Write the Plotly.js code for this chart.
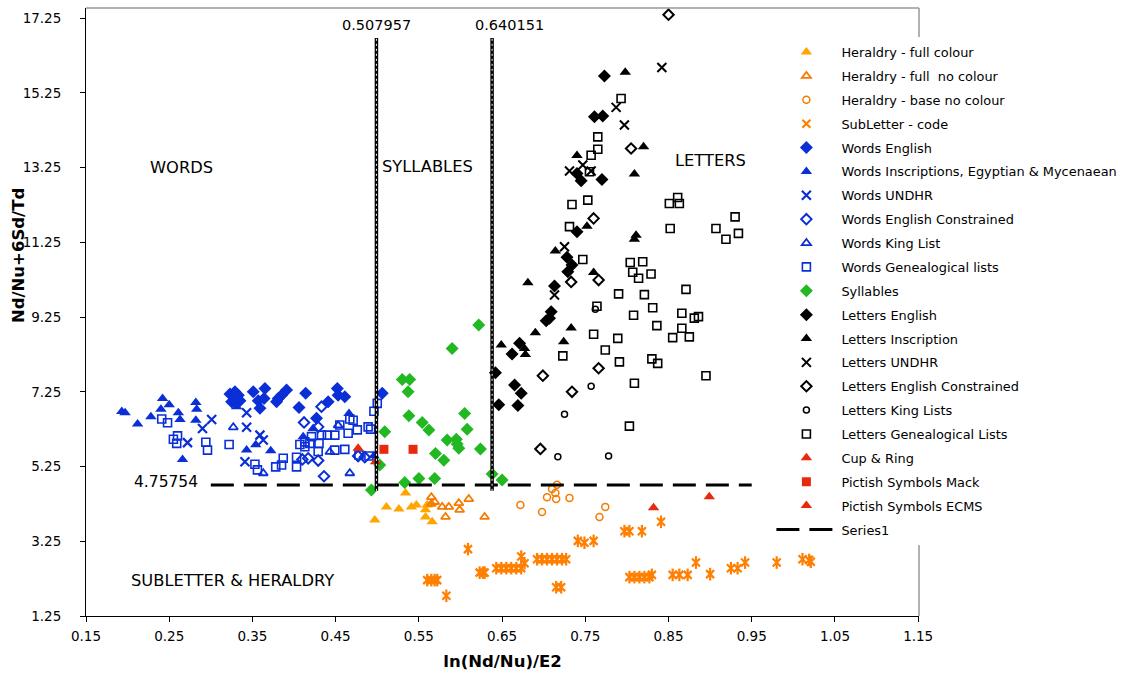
<!DOCTYPE html>
<html>
<head>
<meta charset="utf-8">
<script src="https://cdn.plot.ly/plotly-3.0.1.min.js"></script>
<style>html,body{margin:0;padding:0;background:#fff;}#chart{width:1125px;height:681px;}</style>
</head>
<body>
<div id="chart"></div>
<script>
// ---------- DATA ----------
const heraldryFullX = [0.497,0.511,0.526,0.534,0.541,0.547,0.558,0.558,0.566,0.560];
const heraldryFullY = [3.82,4.17,4.11,4.54,4.17,4.22,4.09,3.90,3.77,4.22];

const heraldryNoColX = [0.565,0.565,0.569,0.578,0.586,0.598,0.599,0.610,0.582,0.629];
const heraldryNoColY = [4.43,4.25,4.30,4.17,4.17,4.27,4.09,4.38,3.90,3.90];

const heraldryBaseX = [0.716,0.710,0.714,0.704,0.715,0.731,0.672,0.698,0.767,0.774];
const heraldryBaseY = [4.76,4.65,4.54,4.43,4.38,4.41,4.22,4.03,3.90,4.17];

const subLetterX = [0.609,0.623,0.627,0.629,0.643,0.649,0.655,0.661,0.667,0.673,0.673,0.677,
  0.692,0.698,0.704,0.710,0.716,0.722,0.727,0.560,0.565,0.569,0.572,0.583,0.715,0.721,
  0.741,0.749,0.760,0.797,0.803,0.818,0.841,0.803,0.809,0.815,0.821,0.827,0.830,
  0.855,0.863,0.873,0.883,0.900,0.925,0.933,0.942,0.980,1.011,1.019,1.021];
const subLetterY = [3.04,2.41,2.41,2.41,2.53,2.53,2.53,2.53,2.53,2.53,2.84,2.66,
  2.77,2.77,2.77,2.77,2.77,2.77,2.77,2.21,2.21,2.21,2.21,1.79,2.02,2.02,
  3.26,3.21,3.26,3.52,3.52,3.52,3.77,2.29,2.29,2.29,2.29,2.29,2.35,
  2.35,2.35,2.35,2.68,2.37,2.53,2.53,2.68,2.68,2.77,2.75,2.70];

const wordsEnglishX = [0.323,0.329,0.333,0.325,0.331,0.335,0.351,0.357,0.359,0.365,0.364,0.381,
  0.391,0.385,0.379,0.414,0.406,0.427,0.441,0.452,0.453,0.461,0.506];
const wordsEnglishY = [7.19,7.25,7.16,6.98,7.07,7.01,7.25,7.01,6.81,7.34,7.07,7.07,
  7.30,7.16,6.98,7.21,6.83,6.54,6.98,7.34,7.16,7.12,7.21];

const wordsInscX = [0.193,0.197,0.212,0.228,0.242,0.250,0.240,0.261,0.263,0.282,0.283,0.282,
  0.266,0.331,0.343,0.354,0.372,0.411,0.423,0.466,0.496];
const wordsInscY = [6.72,6.69,6.39,6.58,7.07,6.90,6.78,6.69,6.51,6.96,6.78,6.49,
  5.44,6.85,5.69,5.83,5.67,6.05,6.27,6.67,5.54];

const wordsUndhrX = [0.301,0.290,0.272,0.343,0.343,0.359,0.363,0.341];
const wordsUndhrY = [6.51,6.27,5.89,6.30,6.69,6.09,5.96,5.38];

const wordsConstrX = [0.433,0.412,0.429,0.417,0.410,0.429,0.436,0.477,0.485];
const wordsConstrY = [6.85,6.43,6.31,5.47,5.44,5.41,4.99,5.53,5.50];

const wordsKingX = [0.327,0.363,0.443,0.453,0.467];
const wordsKingY = [6.30,5.07,5.64,6.35,5.07];

const wordsGenX = [0.241,0.248,0.255,0.260,0.259,0.294,0.296,0.322,0.353,0.356,0.378,0.385,
  0.387,0.403,0.403,0.407,0.413,0.413,0.419,0.421,0.429,0.430,0.433,0.440,0.449,0.449,
  0.461,0.465,0.455,0.467,0.471,0.476,0.489,0.492,0.500,0.496,0.478,0.490];
const wordsGenY = [6.52,6.42,5.98,6.07,5.87,5.90,5.69,5.84,5.31,5.16,5.24,5.29,
  5.47,5.50,5.24,5.84,5.78,5.91,5.87,6.05,5.65,5.87,6.09,6.09,6.09,5.69,
  5.71,6.14,6.36,6.52,6.49,6.23,6.31,6.25,6.94,6.73,5.56,5.53];

const syllablesX = [0.622,0.590,0.530,0.539,0.537,0.538,0.554,0.562,0.605,0.608,0.584,0.595,
  0.596,0.598,0.624,0.570,0.580,0.509,0.503,0.533,0.550,0.569,0.493,0.638,0.650];
const syllablesY = [9.04,8.41,7.58,7.58,7.25,6.61,6.43,6.23,6.67,6.25,5.96,5.98,
  5.85,5.74,5.72,5.60,5.42,6.18,5.29,4.82,4.93,4.93,4.62,5.05,4.89];

const lettersEngX = [0.773,0.761,0.771,0.740,0.745,0.770,0.740,0.728,0.734,0.729,0.713,0.709,
  0.707,0.703,0.671,0.662,0.642,0.665,0.673,0.646,0.669];
const lettersEngY = [15.70,14.61,14.63,13.09,12.90,12.93,11.53,10.85,10.64,10.46,10.08,9.39,
  9.22,9.15,8.55,8.26,7.76,7.43,7.21,6.90,6.88];

const lettersInscX = [0.798,0.740,0.820,0.809,0.752,0.811,0.809,0.714,0.681,0.760,0.733,0.724,
  0.690,0.649,0.677,0.678];
const lettersInscY = [15.80,13.57,13.81,13.08,11.68,11.44,11.33,11.02,10.17,10.44,8.96,8.59,
  8.83,8.50,8.41,8.25];

const lettersUndhrX = [0.842,0.787,0.797,0.747,0.731,0.757,0.725,0.713];
const lettersUndhrY = [15.93,14.86,14.39,13.32,13.16,13.16,11.13,9.84];

const lettersConstrX = [0.850,0.805,0.760,0.733,0.766,0.766,0.699,0.734,0.696];
const lettersConstrY = [17.34,13.76,11.89,10.19,10.24,7.88,7.68,7.25,5.72];

const lettersKingX = [0.762,0.757,0.725,0.717,0.778];
const lettersKingY = [9.46,7.40,6.65,5.51,5.53];

const lettersGenX = [0.793,0.765,0.765,0.757,0.755,0.753,0.734,0.851,0.861,0.863,0.852,0.907,
  0.930,0.919,0.934,0.731,0.747,0.804,0.819,0.807,0.814,0.829,0.790,0.821,0.871,0.831,
  0.764,0.808,0.866,0.881,0.886,0.836,0.866,0.855,0.875,0.760,0.789,0.774,0.723,0.791,
  0.830,0.837,0.895,0.809,0.803];
const lettersGenY = [15.10,14.07,13.74,13.58,13.14,12.38,12.26,12.29,12.45,12.29,11.62,11.62,
  11.93,11.33,11.49,11.67,10.79,10.71,10.73,10.45,10.29,10.40,9.87,9.85,9.99,9.50,
  9.54,9.30,9.35,9.22,9.26,9.02,8.95,8.70,8.72,8.79,8.68,8.37,8.21,8.05,
  8.13,8.01,7.68,7.48,6.33];

const cupRingX = [0.477,0.498];
const cupRingY = [5.74,5.38];

const pictishMackX = [0.508,0.543];
const pictishMackY = [5.71,5.71];

const pictishEcmsX = [0.832,0.899];
const pictishEcmsY = [4.15,4.44];

const series1X = [0.30,0.95];
const series1Y = [4.75754,4.75754];

// Boundary markers (drawn position, label)
const boundaryX = [0.499,0.638];
const boundaryLabels = ["0.507957","0.640151"];
const boundaryYRange = [4.6,16.72];
const thresholdLabel = "4.75754";

const regionNames = ["WORDS","SYLLABLES","LETTERS","SUBLETTER & HERALDRY"];
const regionX = [0.265,0.560,0.900,0.326];
const regionY = [13.24,13.29,13.45,2.19];

const xTicks = [0.15,0.25,0.35,0.45,0.55,0.65,0.75,0.85,0.95,1.05,1.15];
const yTicks = [1.25,3.25,5.25,7.25,9.25,11.25,13.25,15.25,17.25];

// ---------- STYLE ----------
const BLUE = "#0B2FD6", GREEN = "#22B822", RED = "#E8290C",
      ORANGE_LIGHT = "#FFA500", ORANGE = "#F57C00", BLACK = "#000000";

function sc(name, x, y, symbol, color, size, lw, extra) {
  const t = {
    type: "scatter", mode: "markers", name: name, x: x, y: y,
    legendgroup: name,
    marker: {symbol: symbol, color: color, size: size,
             line: {color: color, width: lw === undefined ? 0 : lw}},
    hoverinfo: "x+y+name"
  };
  return Object.assign(t, extra || {});
}

const traces = [
  sc("Heraldry - full colour", heraldryFullX, heraldryFullY, "triangle-up", ORANGE_LIGHT, 10),
  sc("Heraldry - full  no colour", heraldryNoColX, heraldryNoColY, "triangle-up-open", ORANGE, 8, 1.8),
  sc("Heraldry - base no colour", heraldryBaseX, heraldryBaseY, "circle-open", ORANGE, 7, 1.5),
  sc("SubLetter - code", subLetterX, subLetterY, "x-thin-open", "#FF7F00", 8, 2.2),
  sc("SubLetter - code", subLetterX, subLetterY, "line-ns-open", "#FF7F00", 9, 2.2, {showlegend: false}),
  sc("Words English", wordsEnglishX, wordsEnglishY, "diamond", BLUE, 10),
  sc("Words Inscriptions, Egyptian & Mycenaean", wordsInscX, wordsInscY, "triangle-up", BLUE, 10),
  sc("Words UNDHR", wordsUndhrX, wordsUndhrY, "x-thin-open", BLUE, 9, 2.2),
  sc("Words English Constrained", wordsConstrX, wordsConstrY, "diamond-open", BLUE, 8, 2),
  sc("Words King List", wordsKingX, wordsKingY, "triangle-up-open", BLUE, 8, 1.8),
  sc("Words Genealogical lists", wordsGenX, wordsGenY, "square-open", BLUE, 8, 1.6),
  sc("Syllables", syllablesX, syllablesY, "diamond", GREEN, 10),
  sc("Letters English", lettersEngX, lettersEngY, "diamond", BLACK, 10),
  sc("Letters Inscription", lettersInscX, lettersInscY, "triangle-up", BLACK, 10),
  sc("Letters UNDHR", lettersUndhrX, lettersUndhrY, "x-thin-open", BLACK, 9, 2),
  sc("Letters English Constrained", lettersConstrX, lettersConstrY, "diamond-open", BLACK, 8, 2),
  sc("Letters King Lists", lettersKingX, lettersKingY, "circle-open", BLACK, 6, 1.5),
  sc("Letters Genealogical Lists", lettersGenX, lettersGenY, "square-open", BLACK, 8, 1.6),
  sc("Cup & Ring", cupRingX, cupRingY, "triangle-up", RED, 10),
  sc("Pictish Symbols Mack", pictishMackX, pictishMackY, "square", RED, 9),
  sc("Pictish Symbols ECMS", pictishEcmsX, pictishEcmsY, "triangle-up", RED, 10),
  {type: "scatter", mode: "lines", name: "Series1", legendgroup: "Series1",
   x: series1X, y: series1Y, line: {color: BLACK, width: 3, dash: "23px,10px"}}
];

// vertical boundary lines (black with white dotted core)
boundaryX.forEach((bx) => {
  traces.push({type: "scatter", mode: "lines", x: [bx, bx], y: boundaryYRange,
    showlegend: false, hoverinfo: "skip", line: {color: BLACK, width: 3.5}});
  traces.push({type: "scatter", mode: "lines", x: [bx, bx], y: boundaryYRange,
    showlegend: false, hoverinfo: "skip", line: {color: "#ffffff", width: 1, dash: "2px,3px"}});
});

const FONT = "DejaVu Sans, Verdana, sans-serif";
const annotations = [];
boundaryX.forEach((bx, i) => {
  annotations.push({x: i === 0 ? bx : bx + 0.021, y: 17.06, xref: "x", yref: "y", text: boundaryLabels[i],
    showarrow: false, font: {family: FONT, size: 14.5, color: "#000"}, xanchor: "center", yanchor: "middle"});
});
annotations.push({x: 0.287, y: 4.84, xref: "x", yref: "y", text: thresholdLabel, showarrow: false,
  font: {family: FONT, size: 15.5, color: "#000"}, xanchor: "right", yanchor: "middle"});
regionNames.forEach((t, i) => {
  annotations.push({x: regionX[i], y: regionY[i], xref: "x", yref: "y", text: t, showarrow: false,
    font: {family: FONT, size: 16.3, color: "#000"}, xanchor: "center", yanchor: "middle"});
});
annotations.push({x: -0.0816, xref: "paper", y: 0.592, yref: "paper", text: "<b>Nd/Nu+6Sd/Td</b>",
  textangle: -90, showarrow: false, font: {family: FONT, size: 16.5, color: "#000"},
  xanchor: "center", yanchor: "middle"});

const layout = {
  width: 1125, height: 681,
  margin: {l: 86, r: 206, t: 8, b: 65, autoexpand: false},
  paper_bgcolor: "#ffffff", plot_bgcolor: "#ffffff",
  font: {family: FONT, size: 13, color: "#000"},
  showlegend: true,
  legend: {x: 0.8228, y: 0.952, xref: "paper", yref: "paper", xanchor: "left", yanchor: "top",
    bgcolor: "#ffffff", borderwidth: 0, font: {family: FONT, size: 12.9, color: "#000"},
    tracegroupgap: 4.1, itemwidth: 60},
  xaxis: {range: [0.15, 1.151], tickmode: "array", tickvals: xTicks,
    ticktext: xTicks.map(v => v.toFixed(2)),
    showgrid: false, zeroline: false, showline: true, linecolor: "#000", linewidth: 1,
    ticks: "outside", ticklen: 5, tickcolor: "#000", ticklabelstandoff: 3,
    tickfont: {family: FONT, size: 13.5, color: "#000"},
    title: {text: "<b>ln(Nd/Nu)/E2</b>", font: {family: FONT, size: 16.5, color: "#000"}, standoff: 12}},
  yaxis: {range: [1.25, 17.52], tickmode: "array", tickvals: yTicks,
    ticktext: yTicks.map(v => v.toFixed(2)),
    showgrid: false, zeroline: false, showline: true, linecolor: "#000", linewidth: 1,
    ticks: "outside", ticklen: 5, tickcolor: "#000", ticklabelstandoff: 16,
    tickfont: {family: FONT, size: 13.5, color: "#000"}},
  shapes: [
    {type: "line", xref: "paper", yref: "paper", x0: 0, x1: 1, y0: 1, y1: 1, line: {color: "#999", width: 1.5}},
    {type: "line", xref: "paper", yref: "paper", x0: 1, x1: 1, y0: 0, y1: 1, line: {color: "#999", width: 1.5}}
  ],
  annotations: annotations
};

Plotly.newPlot("chart", traces, layout, {displayModeBar: false, staticPlot: true});
</script>
</body>
</html>
